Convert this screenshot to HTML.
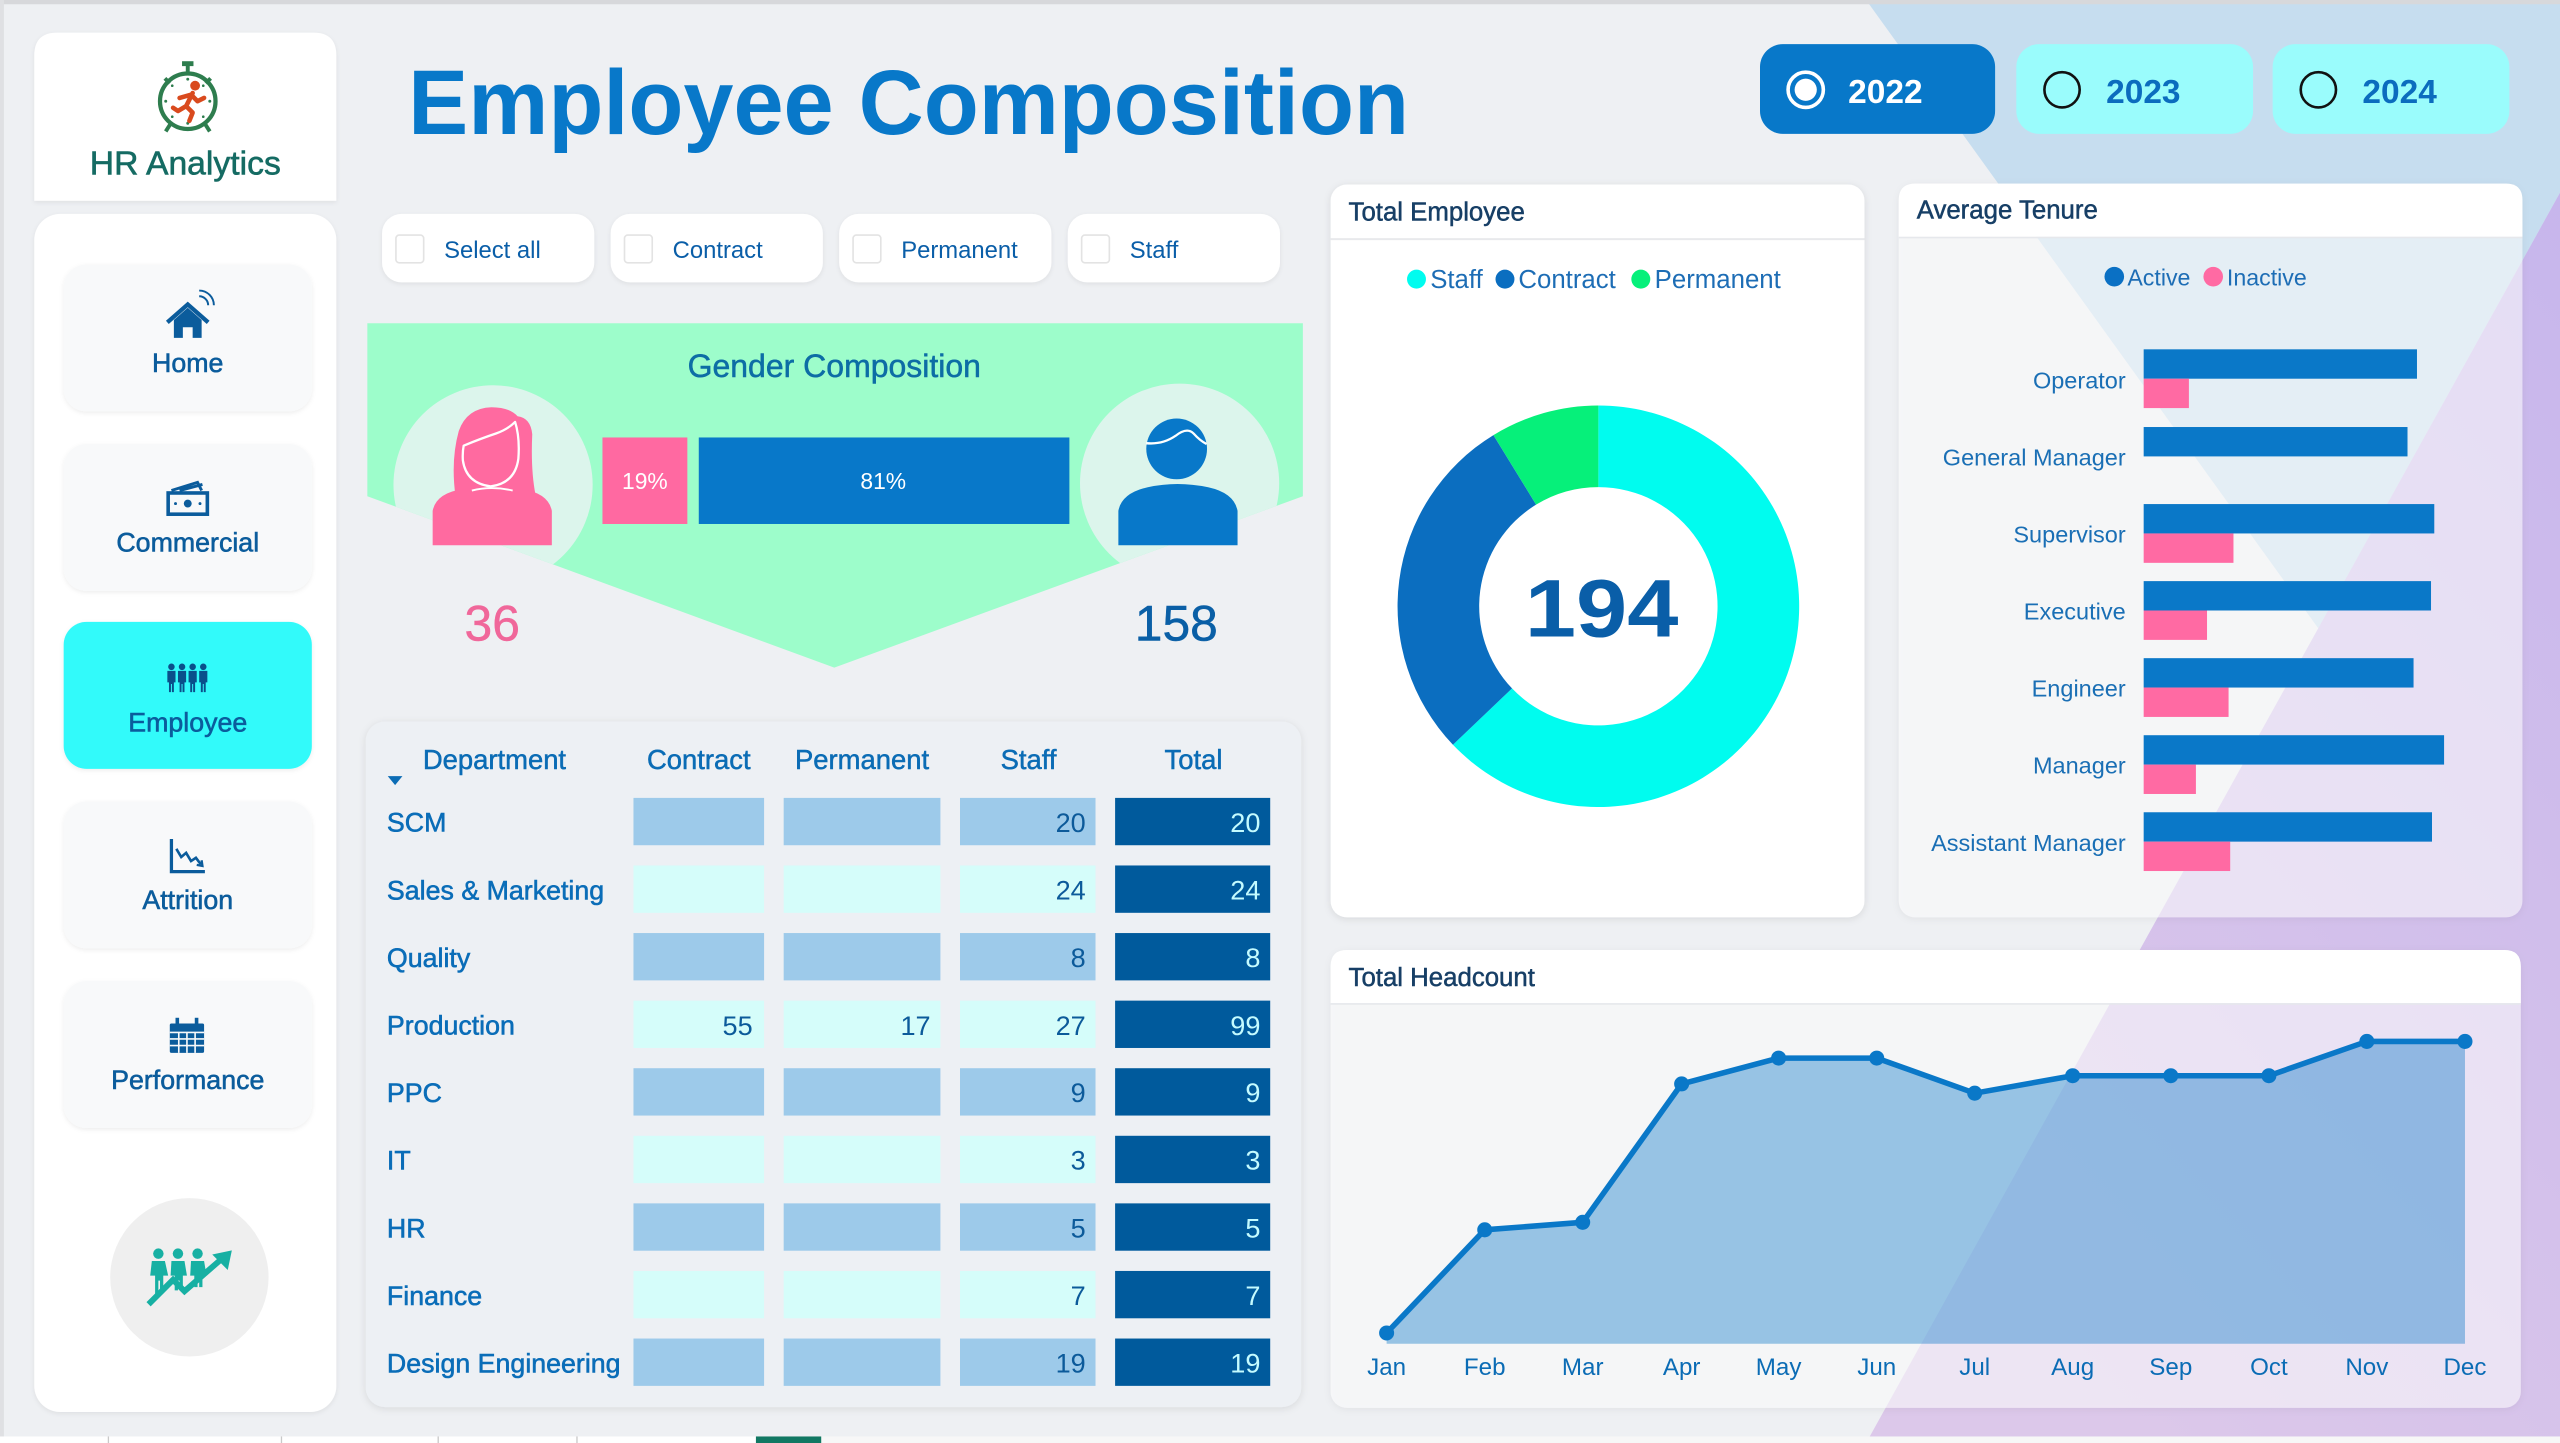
<!DOCTYPE html>
<html><head><meta charset="utf-8"><style>
html,body{margin:0;padding:0;width:2560px;height:1443px;overflow:hidden;background:#eef0f3}
svg{display:block}
text{font-family:"Liberation Sans",Arial,sans-serif}
</style></head><body>
<svg width="2560" height="1443" viewBox="0 0 1568 884" preserveAspectRatio="none" xmlns="http://www.w3.org/2000/svg">
<defs>
<filter id="sh" x="-10%" y="-10%" width="120%" height="120%"><feDropShadow dx="0" dy="1" stdDeviation="2.2" flood-color="#000" flood-opacity="0.10"/></filter>
<filter id="sh2" x="-10%" y="-10%" width="120%" height="120%"><feDropShadow dx="0" dy="1" stdDeviation="1.5" flood-color="#000" flood-opacity="0.07"/></filter>
<linearGradient id="pg" x1="1" y1="0" x2="0.4" y2="1"><stop offset="0" stop-color="#c7b6ec"/><stop offset="1" stop-color="#dcc8ea"/></linearGradient>
<clipPath id="gclip"><polygon points="225,198 798,198 798,304 511,409 225,304"/></clipPath>
</defs>
<!-- background -->
<rect width="1568" height="884" fill="#eef0f3"/>
<polygon points="1143,0 1568,0 1568,118 1420,385" fill="#c6ddef"/>
<polygon points="1568,118 1568,884 1143,884" fill="url(#pg)"/>
<rect x="0" y="0" width="1568" height="2.6" fill="#d7d8db"/>
<rect x="0" y="0" width="2.4" height="884" fill="#dfe0e3"/>
<rect x="0" y="880" width="1568" height="4" fill="#f7f7f7"/>
<rect x="0" y="880" width="503" height="4" fill="#ffffff"/>
<g fill="#c9c9c9"><rect x="66" y="880" width="0.8" height="4"/><rect x="172" y="880" width="0.8" height="4"/><rect x="268" y="880" width="0.8" height="4"/><rect x="353" y="880" width="0.8" height="4"/></g>
<rect x="463" y="880" width="40" height="4" fill="#127863"/>

<!-- sidebar -->
<path d="M21,34 Q21,20 35,20 L192,20 Q206,20 206,34 L206,123 L21,123 Z" fill="#fff" filter="url(#sh2)"/>
<rect x="21" y="131" width="185" height="734" rx="16" fill="#fff" filter="url(#sh2)"/>
<!-- logo stopwatch -->
<g>
<circle cx="115" cy="62" r="17" fill="none" stroke="#2e7d4e" stroke-width="2.6"/>
<rect x="111.5" y="37.5" width="7" height="3" fill="#2e7d4e"/>
<rect x="113.8" y="40" width="2.4" height="5" fill="#2e7d4e"/>
<line x1="101" y1="48" x2="104" y2="51" stroke="#2e7d4e" stroke-width="2.4"/>
<line x1="129" y1="48" x2="126" y2="51" stroke="#2e7d4e" stroke-width="2.4"/>
<line x1="105" y1="75" x2="101.5" y2="80.5" stroke="#2e7d4e" stroke-width="2.4"/>
<line x1="125" y1="75" x2="128.5" y2="80.5" stroke="#2e7d4e" stroke-width="2.4"/>
<g fill="#2e7d4e"><circle cx="115" cy="48.5" r="0.9"/><circle cx="128.5" cy="62" r="0.9"/><circle cx="101.5" cy="62" r="0.9"/><circle cx="115" cy="75.5" r="0.9"/><circle cx="124.5" cy="52.5" r="0.8"/><circle cx="105.5" cy="52.5" r="0.8"/><circle cx="124.5" cy="71.5" r="0.8"/><circle cx="105.5" cy="71.5" r="0.8"/></g>
<circle cx="119.5" cy="52.5" r="3" fill="#d94a1e"/>
<path d="M118,57 L114,65 M117,58 L110,60 M117,58 L121,62 L125,60 M114,65 L118,69 L116,74 M114,65 L109,68 L106,66" stroke="#d94a1e" stroke-width="2.8" fill="none" stroke-linecap="round" stroke-linejoin="round"/>
</g>
<text x="113.5" y="107" text-anchor="middle" font-size="20.2" fill="#156b63" stroke="#156b63" stroke-width="0.35" textLength="117" lengthAdjust="spacingAndGlyphs">HR Analytics</text>

<!-- nav buttons -->
<g filter="url(#sh2)">
<rect x="39" y="162" width="152" height="90" rx="14" fill="#f8f9fa"/>
<rect x="39" y="272" width="152" height="90" rx="14" fill="#f8f9fa"/>
<rect x="39" y="381" width="152" height="90" rx="14" fill="#33fafa"/>
<rect x="39" y="491" width="152" height="90" rx="14" fill="#f8f9fa"/>
<rect x="39" y="601" width="152" height="90" rx="14" fill="#f8f9fa"/>
</g>
<!-- home icon -->
<g fill="#0b5c9c" stroke="#0b5c9c">
<polyline points="102.5,197.5 115,186.5 127.5,197.5" fill="none" stroke-width="2.6"/>
<path d="M106.5,196 L115,188.5 L123.5,196 L123.5,207 L118,207 L118,200.5 L112,200.5 L112,207 L106.5,207 Z" stroke="none"/>
<path d="M122,181.5 A5.5,5.5 0 0 1 127.5,187 M122,178 A9,9 0 0 1 131,187" fill="none" stroke-width="1.2"/>
</g>
<!-- commercial icon -->
<g stroke="#0b5c9c" fill="none">
<rect x="103" y="302" width="24" height="13" stroke-width="2.2"/>
<path d="M105,300.5 L121,295.5 L123.5,300.5 M110,300.5 L124,296.8" stroke-width="1.8"/>
<circle cx="115" cy="308.5" r="2.4" fill="#0b5c9c" stroke="none"/>
<circle cx="107.5" cy="308.5" r="0.9" fill="#0b5c9c" stroke="none"/>
<circle cx="122.5" cy="308.5" r="0.9" fill="#0b5c9c" stroke="none"/>
</g>
<!-- employee icon -->
<g fill="#0a4f8a">
<circle cx="105" cy="408.5" r="2"/><circle cx="111.5" cy="408.5" r="2"/><circle cx="118" cy="408.5" r="2"/><circle cx="124.5" cy="408.5" r="2"/>
<path d="M102.5,411 h5 v7 h-1 v6 h-1.2 v-5 h-0.6 v5 h-1.2 v-6 h-1 Z"/>
<path d="M109,411 h5 v7 h-1 v6 h-1.2 v-5 h-0.6 v5 h-1.2 v-6 h-1 Z"/>
<path d="M115.5,411 h5 v7 h-1 v6 h-1.2 v-5 h-0.6 v5 h-1.2 v-6 h-1 Z"/>
<path d="M122,411 h5 v7 h-1 v6 h-1.2 v-5 h-0.6 v5 h-1.2 v-6 h-1 Z"/>
</g>
<!-- attrition icon -->
<g stroke="#0b5c9c" fill="none">
<path d="M105,514 L105,534 L125.5,534" stroke-width="2"/>
<path d="M108,520 L111,525 L114,522.5 L117,527.5 L120,525.5 L123,529.5" stroke-width="1.6"/>
<path d="M120.5,529.8 L124,530.5 L123.5,527" stroke-width="1.4"/>
</g>
<!-- performance icon -->
<g>
<rect x="104" y="627" width="21" height="18" rx="1" fill="#0b5c9c"/>
<g stroke="#f8f9fa" stroke-width="1"><line x1="104" y1="632.5" x2="125" y2="632.5"/><line x1="104" y1="636.5" x2="125" y2="636.5"/><line x1="104" y1="640.5" x2="125" y2="640.5"/><line x1="109.5" y1="632.5" x2="109.5" y2="645"/><line x1="114.5" y1="632.5" x2="114.5" y2="645"/><line x1="119.5" y1="632.5" x2="119.5" y2="645"/></g>
<rect x="107.5" y="623.5" width="2.2" height="5" fill="#0b5c9c"/><rect x="119.3" y="623.5" width="2.2" height="5" fill="#0b5c9c"/>
</g>
<g font-size="16.4" fill="#0b5c9c" stroke="#0b5c9c" stroke-width="0.35" text-anchor="middle">
<text x="115" y="228">Home</text>
<text x="115" y="338">Commercial</text>
<text x="115" y="448">Employee</text>
<text x="115" y="557">Attrition</text>
<text x="115" y="667">Performance</text>
</g>
<!-- bottom circle -->
<circle cx="116" cy="782.5" r="48.5" fill="#efefef"/>
<g fill="#17b0a3">
<circle cx="97" cy="768" r="3.2"/><circle cx="109" cy="768" r="3.2"/><circle cx="121" cy="768" r="3.2"/>
<path d="M93,772.5 h8 l2,9 h-3 v11 h-2 v-8 h-1 v8 h-2 v-11 h-3 Z"/>
<path d="M105,772.5 h8 l1.5,9 h-2.5 v9 h-2 v-6 h-1 v6 h-2 v-9 h-2.5 Z"/>
<path d="M117,772.5 h8 l1.5,9 h-2.5 v7 h-2 v-5 h-1 v5 h-2 v-7 h-2.5 Z"/>
</g>
<polyline points="91,799 106,784 113,791 136,771" fill="none" stroke="#17b0a3" stroke-width="3.6" stroke-linejoin="miter"/>
<polygon points="142,766 130,768.5 139.5,778" fill="#17b0a3"/>

<!-- title -->
<text x="250" y="82" font-size="56" font-weight="bold" fill="#0878c9" textLength="613" lengthAdjust="spacingAndGlyphs">Employee Composition</text>

<!-- year buttons -->
<rect x="1078" y="27" width="144" height="55" rx="14" fill="#0878c9"/>
<circle cx="1106" cy="55" r="10.8" fill="none" stroke="#fff" stroke-width="2.2"/>
<circle cx="1106" cy="55" r="6.8" fill="#fff"/>
<text x="1132" y="63" font-size="20.5" font-weight="bold" fill="#fff">2022</text>
<rect x="1235" y="27" width="145" height="55" rx="14" fill="#9afcfc"/>
<circle cx="1263" cy="55" r="10.8" fill="none" stroke="#111" stroke-width="1.6"/>
<text x="1290" y="63" font-size="20.5" font-weight="bold" fill="#0b6cbe">2023</text>
<rect x="1392" y="27" width="145" height="55" rx="14" fill="#9afcfc"/>
<circle cx="1420" cy="55" r="10.8" fill="none" stroke="#111" stroke-width="1.6"/>
<text x="1447" y="63" font-size="20.5" font-weight="bold" fill="#0b6cbe">2024</text>

<!-- chips -->
<g filter="url(#sh2)" fill="#fff">
<rect x="234" y="131" width="130" height="42" rx="12"/>
<rect x="374" y="131" width="130" height="42" rx="12"/>
<rect x="514" y="131" width="130" height="42" rx="12"/>
<rect x="654" y="131" width="130" height="42" rx="12"/>
</g>
<g fill="#fff" stroke="#e3e3e3" stroke-width="1">
<rect x="242.5" y="144" width="17" height="17" rx="2"/>
<rect x="382.5" y="144" width="17" height="17" rx="2"/>
<rect x="522.5" y="144" width="17" height="17" rx="2"/>
<rect x="662.5" y="144" width="17" height="17" rx="2"/>
</g>
<g font-size="14.6" fill="#0a5ea8">
<text x="272" y="158">Select all</text>
<text x="412" y="158">Contract</text>
<text x="552" y="158">Permanent</text>
<text x="692" y="158">Staff</text>
</g>

<!-- gender composition -->
<polygon points="225,198 798,198 798,304 511,409 225,304" fill="#9dfdcb"/>
<g clip-path="url(#gclip)">
<circle cx="302" cy="297" r="61" fill="#dcf5ec"/>
<circle cx="722.5" cy="296" r="61" fill="#dcf5ec"/>
</g>
<text x="511" y="231" text-anchor="middle" font-size="19.6" fill="#0d6da5" stroke="#0d6da5" stroke-width="0.3">Gender Composition</text>
<!-- female -->
<g>
<path d="M279,304 Q276,282 281,264 Q286,250 301,249.5 Q312,249.5 317,255 Q325,256 326,266 Q325,288 328,303 Q319,306 314,300 L289,300 Q285,305 279,304 Z" fill="#ff6aa0"/>
<path d="M265,334 L265,313 Q267,302 284,299.5 Q301,296.5 319,299.5 Q336,302 338,313 L338,334 Z" fill="#ff6aa0"/>
<path d="M284,273 Q295,268.5 304,265.5 Q311,263 315.5,258.5 Q318.5,268 317.5,281 Q315.5,296 300.5,298 Q285.5,296 283.5,282 Q283.2,277 284,273 Z" fill="#ff6aa0" stroke="#fff" stroke-width="1.4" stroke-linejoin="round"/>
<path d="M289,300.5 Q301,297.5 314,300.5" fill="none" stroke="#fff" stroke-width="1.2"/>
</g>
<!-- male -->
<g>
<circle cx="720.7" cy="275" r="18.6" fill="#0878c9"/>
<path d="M702,271.5 Q712,272.5 720,267 Q727,261.5 731,265.5 Q735,270 739,272" fill="none" stroke="#fff" stroke-width="1.4"/>
<path d="M685,334 L685,313 Q687,302 703,298.5 Q721,294.5 740,298.5 Q756,302 758,313 L758,334 Z" fill="#0878c9"/>
</g>
<rect x="369" y="268" width="52" height="53" fill="#ff69a1"/>
<text x="395" y="299.5" text-anchor="middle" font-size="14" fill="#fff">19%</text>
<rect x="428" y="268" width="227" height="53" fill="#0878c9"/>
<text x="541" y="299.5" text-anchor="middle" font-size="14" fill="#fff">81%</text>
<text x="301.5" y="392.5" text-anchor="middle" font-size="30.5" fill="#f0679a" stroke="#f0679a" stroke-width="0.3">36</text>
<text x="720.5" y="392.5" text-anchor="middle" font-size="30.5" fill="#0a5fa6" stroke="#0a5fa6" stroke-width="0.3">158</text>

<!-- table -->
<rect x="224" y="442" width="573" height="420" rx="12" fill="#edf0f4" filter="url(#sh)"/>
<g font-size="16.8" fill="#0b6cb5" stroke="#0b6cb5" stroke-width="0.3">
<text x="259" y="471">Department</text>
<text x="428" y="471" text-anchor="middle">Contract</text>
<text x="528" y="471" text-anchor="middle">Permanent</text>
<text x="630" y="471" text-anchor="middle">Staff</text>
<text x="731" y="471" text-anchor="middle">Total</text>
</g>
<polygon points="237.5,475.5 246.5,475.5 242,481" fill="#0b6cb5"/>
<!-- rows -->
<g>
<g fill="#9dcaea"><rect x="388" y="488.8" width="80" height="29"/><rect x="480" y="488.8" width="96" height="29"/><rect x="588" y="488.8" width="83" height="29"/></g>
<g fill="#d5fdfa"><rect x="388" y="530.2" width="80" height="29"/><rect x="480" y="530.2" width="96" height="29"/><rect x="588" y="530.2" width="83" height="29"/></g>
<g fill="#9dcaea"><rect x="388" y="571.6" width="80" height="29"/><rect x="480" y="571.6" width="96" height="29"/><rect x="588" y="571.6" width="83" height="29"/></g>
<g fill="#d5fdfa"><rect x="388" y="613" width="80" height="29"/><rect x="480" y="613" width="96" height="29"/><rect x="588" y="613" width="83" height="29"/></g>
<g fill="#9dcaea"><rect x="388" y="654.4" width="80" height="29"/><rect x="480" y="654.4" width="96" height="29"/><rect x="588" y="654.4" width="83" height="29"/></g>
<g fill="#d5fdfa"><rect x="388" y="695.8" width="80" height="29"/><rect x="480" y="695.8" width="96" height="29"/><rect x="588" y="695.8" width="83" height="29"/></g>
<g fill="#9dcaea"><rect x="388" y="737.2" width="80" height="29"/><rect x="480" y="737.2" width="96" height="29"/><rect x="588" y="737.2" width="83" height="29"/></g>
<g fill="#d5fdfa"><rect x="388" y="778.6" width="80" height="29"/><rect x="480" y="778.6" width="96" height="29"/><rect x="588" y="778.6" width="83" height="29"/></g>
<g fill="#9dcaea"><rect x="388" y="820" width="80" height="29"/><rect x="480" y="820" width="96" height="29"/><rect x="588" y="820" width="83" height="29"/></g>
<g fill="#005a9c">
<rect x="683" y="488.8" width="95" height="29"/><rect x="683" y="530.2" width="95" height="29"/><rect x="683" y="571.6" width="95" height="29"/><rect x="683" y="613" width="95" height="29"/><rect x="683" y="654.4" width="95" height="29"/><rect x="683" y="695.8" width="95" height="29"/><rect x="683" y="737.2" width="95" height="29"/><rect x="683" y="778.6" width="95" height="29"/><rect x="683" y="820" width="95" height="29"/>
</g>
</g>
<g font-size="16.4" fill="#0a6db8" stroke="#0a6db8" stroke-width="0.35">
<text x="237" y="509.5">SCM</text>
<text x="237" y="551">Sales &amp; Marketing</text>
<text x="237" y="592.4">Quality</text>
<text x="237" y="633.8">Production</text>
<text x="237" y="675.2">PPC</text>
<text x="237" y="716.6">IT</text>
<text x="237" y="758">HR</text>
<text x="237" y="799.4">Finance</text>
<text x="237" y="840.8">Design Engineering</text>
</g>
<g font-size="16.6" fill="#0c5a9a" text-anchor="end">
<text x="461" y="634">55</text>
<text x="570" y="634">17</text>
<text x="665" y="509.6">20</text>
<text x="665" y="551">24</text>
<text x="665" y="592.4">8</text>
<text x="665" y="634">27</text>
<text x="665" y="675.2">9</text>
<text x="665" y="716.6">3</text>
<text x="665" y="758">5</text>
<text x="665" y="799.4">7</text>
<text x="665" y="840.8">19</text>
</g>
<g font-size="16.6" fill="#c4fbff" text-anchor="end">
<text x="772" y="509.6">20</text>
<text x="772" y="551">24</text>
<text x="772" y="592.4">8</text>
<text x="772" y="634">99</text>
<text x="772" y="675.2">9</text>
<text x="772" y="716.6">3</text>
<text x="772" y="758">5</text>
<text x="772" y="799.4">7</text>
<text x="772" y="840.8">19</text>
</g>

<!-- Total Employee panel -->
<rect x="815" y="113" width="327" height="449" rx="10" fill="#fff" filter="url(#sh)"/>
<line x1="815" y1="146.5" x2="1142" y2="146.5" stroke="#e8e9ec" stroke-width="1.2"/>
<text x="826" y="135" font-size="15.8" fill="#173f66" stroke="#173f66" stroke-width="0.3">Total Employee</text>
<circle cx="867.6" cy="171" r="5.8" fill="#00fcef"/>
<circle cx="921.8" cy="171" r="5.8" fill="#0b6ec0"/>
<circle cx="1005" cy="171" r="5.8" fill="#06f07a"/>
<g font-size="15.8" fill="#1d6db5">
<text x="876" y="176.5">Staff</text>
<text x="930" y="176.5">Contract</text>
<text x="1013.5" y="176.5">Permanent</text>
</g>
<path d="M979,248.4 A123,123 0 1 1 889.92,456.22 L926.13,421.74 A73,73 0 1 0 979,298.4 Z" fill="#00fcef"/>
<path d="M889.92,456.22 A123,123 0 0 1 914.73,266.53 L940.86,309.16 A73,73 0 0 0 926.13,421.74 Z" fill="#0b6ec0"/>
<path d="M914.73,266.53 A123,123 0 0 1 979,248.4 L979,298.4 A73,73 0 0 0 940.86,309.16 Z" fill="#06f07a"/>
<text x="981" y="390" text-anchor="middle" font-size="50" font-weight="bold" fill="#0a5ea8" textLength="94" lengthAdjust="spacingAndGlyphs">194</text>

<!-- Average Tenure panel -->
<rect x="1163" y="112.5" width="382" height="449.5" rx="10" fill="#ffffff" fill-opacity="0.55" filter="url(#sh)"/>
<path d="M1163,145 L1163,122.5 Q1163,112.5 1173,112.5 L1535,112.5 Q1545,112.5 1545,122.5 L1545,145 Z" fill="#fff"/>
<line x1="1163" y1="145.5" x2="1545" y2="145.5" stroke="#e6e8ec" stroke-width="1"/>
<text x="1174" y="134" font-size="15.8" fill="#173f66" stroke="#173f66" stroke-width="0.3">Average Tenure</text>
<circle cx="1295" cy="169.5" r="6" fill="#0a70c4"/>
<circle cx="1355.6" cy="169.5" r="6" fill="#ff6aa3"/>
<g font-size="14.2" fill="#1d6db5">
<text x="1303" y="175">Active</text>
<text x="1364" y="175">Inactive</text>
</g>
<g font-size="14.4" fill="#1a6fb5" text-anchor="end">
<text x="1302" y="238">Operator</text>
<text x="1302" y="285.2">General Manager</text>
<text x="1302" y="332.4">Supervisor</text>
<text x="1302" y="379.6">Executive</text>
<text x="1302" y="426.8">Engineer</text>
<text x="1302" y="474">Manager</text>
<text x="1302" y="521.2">Assistant Manager</text>
</g>
<g fill="#0a78c8">
<rect x="1313" y="214" width="167.4" height="18"/>
<rect x="1313" y="261.6" width="161.6" height="18"/>
<rect x="1313" y="308.8" width="178" height="18"/>
<rect x="1313" y="356" width="176" height="18"/>
<rect x="1313" y="403.2" width="165.3" height="18"/>
<rect x="1313" y="450.4" width="184" height="18"/>
<rect x="1313" y="497.6" width="176.6" height="18"/>
</g>
<g fill="#ff6aa3">
<rect x="1313" y="232" width="27.7" height="18"/>
<rect x="1313" y="326.8" width="55" height="18"/>
<rect x="1313" y="374" width="38.8" height="18"/>
<rect x="1313" y="421.2" width="52" height="18"/>
<rect x="1313" y="468.4" width="32" height="18"/>
<rect x="1313" y="515.6" width="53" height="18"/>
</g>

<!-- Total Headcount panel -->
<rect x="815" y="582" width="729" height="280.5" rx="10" fill="#ffffff" fill-opacity="0.55" filter="url(#sh)"/>
<path d="M815,614.5 L815,592 Q815,582 825,582 L1534,582 Q1544,582 1544,592 L1544,614.5 Z" fill="#fff"/>
<line x1="815" y1="615" x2="1544" y2="615" stroke="#e6e8ec" stroke-width="1"/>
<text x="826" y="604" font-size="15.8" fill="#173f66" stroke="#173f66" stroke-width="0.3">Total Headcount</text>
<polygon points="849.3,816.6 909.4,753.4 969.4,748.8 1030,664 1089.4,648.2 1149.5,648.2 1209.5,669.7 1269.5,659 1329.6,659 1389.7,659 1449.7,638 1509.8,638 1509.8,823.2 849.3,823.2" fill="#0a78c8" fill-opacity="0.4"/>
<polyline points="849.3,816.6 909.4,753.4 969.4,748.8 1030,664 1089.4,648.2 1149.5,648.2 1209.5,669.7 1269.5,659 1329.6,659 1389.7,659 1449.7,638 1509.8,638" fill="none" stroke="#0a78c8" stroke-width="3.4" stroke-linejoin="round"/>
<g fill="#0a78c8">
<circle cx="849.3" cy="816.6" r="4.6"/><circle cx="909.4" cy="753.4" r="4.6"/><circle cx="969.4" cy="748.8" r="4.6"/><circle cx="1030" cy="664" r="4.6"/><circle cx="1089.4" cy="648.2" r="4.6"/><circle cx="1149.5" cy="648.2" r="4.6"/><circle cx="1209.5" cy="669.7" r="4.6"/><circle cx="1269.5" cy="659" r="4.6"/><circle cx="1329.6" cy="659" r="4.6"/><circle cx="1389.7" cy="659" r="4.6"/><circle cx="1449.7" cy="638" r="4.6"/><circle cx="1509.8" cy="638" r="4.6"/>
</g>
<g font-size="14.8" fill="#0b6cb5" text-anchor="middle">
<text x="849.3" y="842.5">Jan</text>
<text x="909.4" y="842.5">Feb</text>
<text x="969.4" y="842.5">Mar</text>
<text x="1030" y="842.5">Apr</text>
<text x="1089.4" y="842.5">May</text>
<text x="1149.5" y="842.5">Jun</text>
<text x="1209.5" y="842.5">Jul</text>
<text x="1269.5" y="842.5">Aug</text>
<text x="1329.6" y="842.5">Sep</text>
<text x="1389.7" y="842.5">Oct</text>
<text x="1449.7" y="842.5">Nov</text>
<text x="1509.8" y="842.5">Dec</text>
</g>
</svg>
</body></html>
